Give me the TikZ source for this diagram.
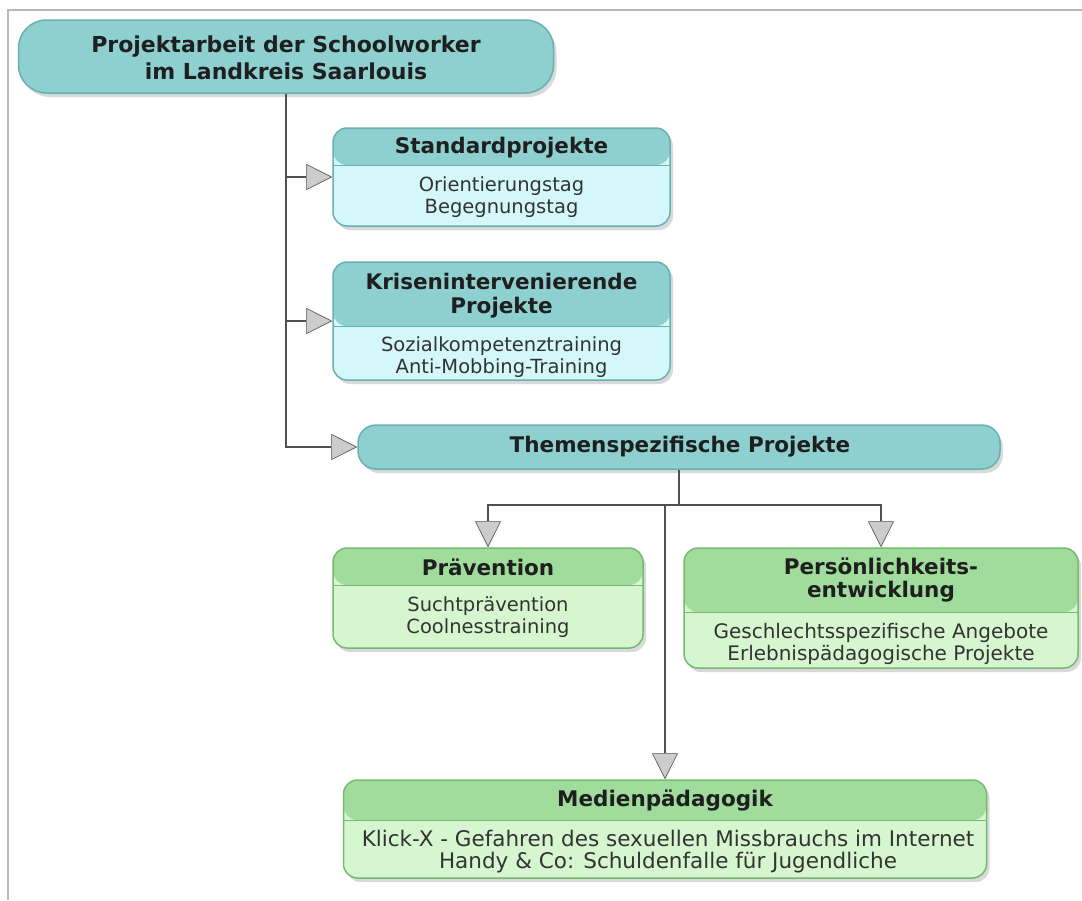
\documentclass[tikz,border=0pt]{standalone}
\usepackage{fontspec}
\setmainfont{DejaVu Sans}
\usetikzlibrary{arrows.meta,shadows,positioning}
\definecolor{tkopf}{RGB}{142,207,207}
\definecolor{tbauch}{RGB}{212,248,250}
\definecolor{trand}{RGB}{104,176,178}
\definecolor{gkopf}{RGB}{160,220,156}
\definecolor{gbauch}{RGB}{214,246,208}
\definecolor{grand}{RGB}{118,186,114}
\definecolor{linie}{RGB}{80,80,80}
\tikzset{
  kasten/.style={rounded corners=14pt, line width=1.5pt,
    drop shadow={opacity=0.3, shadow xshift=3pt, shadow yshift=-4pt}},
  tkasten/.style={kasten, draw=trand, fill=tbauch,
    path picture={\fill[tkopf] (path picture bounding box.north west) rectangle ([yshift=-#1]path picture bounding box.north east);
      \draw[trand, line width=1pt] ([yshift=-#1]path picture bounding box.north west) -- ([yshift=-#1]path picture bounding box.north east);}},
  gkasten/.style={kasten, draw=grand, fill=gbauch,
    path picture={\fill[gkopf] (path picture bounding box.north west) rectangle ([yshift=-#1]path picture bounding box.north east);
      \draw[grand, line width=1pt] ([yshift=-#1]path picture bounding box.north west) -- ([yshift=-#1]path picture bounding box.north east);}},
  pille/.style={kasten, draw=trand, fill=tkopf},
  titel/.style={font=\bfseries\fontsize{21.5}{23.5}\selectfont, text=black!88, align=center, inner sep=0pt},
  zeilen/.style={font=\fontsize{19.5}{22}\selectfont, text=black!80, align=center, inner sep=0pt},
  pfeil/.style={draw=linie, line width=2.2pt, -{Triangle[length=26pt, width=26pt, fill=gray!40, line width=0.6pt]}}
}
\begin{document}
\begin{tikzpicture}[x=1pt, y=-1pt]
\useasboundingbox (0,0) rectangle (1082,900);
\draw[gray!55, line width=2pt] (8,900) -- (8,10) -- (1082,10);
\node[pille, rounded corners=28pt, minimum width=535pt, minimum height=73pt] (root) at (286,56.5) {};
\node[titel, font=\bfseries\fontsize{22}{27}\selectfont] (rootT) at (286,58) {Projektarbeit der Schoolworker\\im Landkreis Saarlouis};
\node[tkasten=37pt, minimum width=337pt, minimum height=98pt] (std) at (501.5,177) {};
\node[titel] (stdT) at (501.5,148) {Standardprojekte};
\node[zeilen] (stdB) at (501.5,197.5) {Orientierungstag\\Begegnungstag};
\node[tkasten=64pt, minimum width=337pt, minimum height=118pt] (kris) at (501.5,321) {};
\node[titel] (krisT) at (501.5,295.5) {Krisenintervenierende\\Projekte};
\node[zeilen] (krisB) at (501.5,357) {Sozialkompetenztraining\\Anti-Mobbing-Training};
\node[pille, rounded corners=18pt, minimum width=642pt, minimum height=44pt] (them) at (679,447) {};
\node[titel] (themT) at (680,447) {Themenspezifische Projekte};
\node[gkasten=37pt, minimum width=310pt, minimum height=100pt] (prae) at (488,598) {};
\node[titel] (praeT) at (488,567) {Prävention};
\node[zeilen] (praeB) at (488,617) {Suchtprävention\\Coolnesstraining};
\node[gkasten=64pt, minimum width=394pt, minimum height=120pt] (pers) at (881,608) {};
\node[titel] (persT) at (881,580) {Persönlichkeits-\\entwicklung};
\node[zeilen, font=\fontsize{20}{22}\selectfont] (persB) at (881,644) {Geschlechtsspezifische Angebote\\Erlebnispädagogische Projekte};
\node[gkasten=40pt, minimum width=643pt, minimum height=98pt] (med) at (665,829) {};
\node[titel] (medT) at (665,800) {Medienpädagogik};
\node[zeilen, font=\fontsize{21.5}{22}\selectfont] (medB) at (668,852) {Klick-X - Gefahren des sexuellen Missbrauchs im Internet\\Handy \& Co: Schuldenfalle für Jugendliche};
\foreach \z in {std,kris,them} \draw[pfeil] (root.south) |- (\z.west);
\coordinate (gabel) at ([yshift=-35pt]them.south);
\draw[linie, line width=2.2pt] (them.south) -- (gabel);
\foreach \z in {prae,pers} \draw[pfeil] (gabel) -| (\z.north);
\draw[pfeil] (med.north |- gabel) -- (med.north);
\end{tikzpicture}
\end{document}
